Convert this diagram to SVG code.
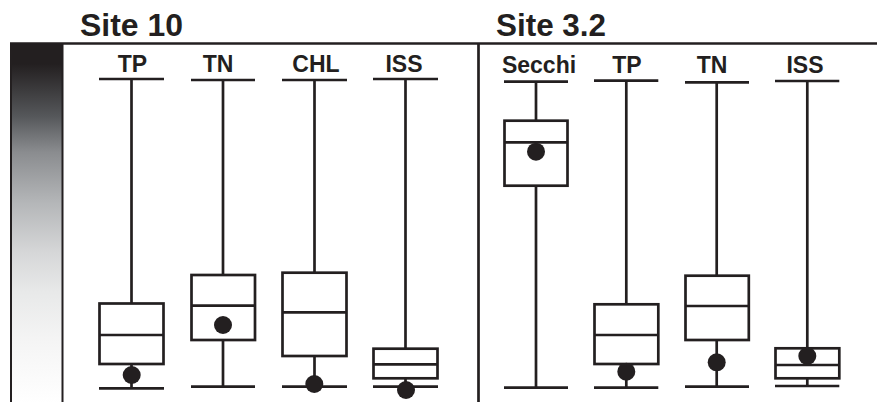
<svg xmlns="http://www.w3.org/2000/svg" width="877" height="402" viewBox="0 0 877 402">
<defs>
<linearGradient id="bar" x1="0" y1="0" x2="0" y2="1">
<stop offset="0" stop-color="#231f20"/>
<stop offset="0.055" stop-color="#231f20"/>
<stop offset="0.2" stop-color="#55575a"/>
<stop offset="0.3" stop-color="#8a8c8f"/>
<stop offset="0.44" stop-color="#b4b6b8"/>
<stop offset="0.58" stop-color="#d6d7d8"/>
<stop offset="0.69" stop-color="#e8e9e9"/>
<stop offset="0.83" stop-color="#f5f5f5"/>
<stop offset="1" stop-color="#ffffff"/>
</linearGradient>
</defs>
<style>
.ln{stroke:#231f20;stroke-width:2.7;fill:none}
.bx{stroke:#231f20;stroke-width:2.7;fill:#ffffff}
.dot{fill:#231f20}
.site{font-family:"Liberation Sans",Arial,sans-serif;font-weight:bold;font-size:31px;fill:#231f20}
.lab{font-family:"Liberation Sans",Arial,sans-serif;font-weight:bold;font-size:23px;fill:#231f20;text-anchor:middle}
</style>
<rect width="877" height="402" fill="#ffffff"/>
<g id="frame">
<rect x="11" y="44" width="51.5" height="360" fill="url(#bar)" stroke="#231f20" stroke-width="2"/>
<line class="ln" x1="10" y1="43.5" x2="877" y2="43.5"/>
<line class="ln" x1="478.5" y1="43.5" x2="478.5" y2="402"/>
</g>
<text class="site" x="80" y="35.5" textLength="103" lengthAdjust="spacingAndGlyphs">Site 10</text>
<text class="site" x="496" y="35.5" textLength="110" lengthAdjust="spacingAndGlyphs">Site 3.2</text>
<g id="s10-TP">
<text class="lab" x="132.5" y="72">TP</text>
<line class="ln" x1="99" y1="79" x2="164" y2="79"/>
<line class="ln" x1="131.5" y1="79" x2="131.5" y2="388"/>
<line class="ln" x1="99" y1="388.3" x2="164" y2="388.3"/>
<rect class="bx" x="99.5" y="303.5" width="64" height="60.5"/>
<line class="ln" x1="99.5" y1="335" x2="163.5" y2="335"/>
<circle class="dot" cx="131.7" cy="375" r="9"/>
</g>
<g id="s10-TN">
<text class="lab" x="218" y="72">TN</text>
<line class="ln" x1="191" y1="80" x2="255" y2="80"/>
<line class="ln" x1="223" y1="80" x2="223" y2="386.7"/>
<line class="ln" x1="191" y1="386.7" x2="255" y2="386.7"/>
<rect class="bx" x="191.5" y="275" width="63.5" height="65"/>
<line class="ln" x1="191.5" y1="305.7" x2="255" y2="305.7"/>
<circle class="dot" cx="223" cy="325" r="9"/>
</g>
<g id="s10-CHL">
<text class="lab" x="316" y="72">CHL</text>
<line class="ln" x1="282" y1="80" x2="347" y2="80"/>
<line class="ln" x1="314.5" y1="80" x2="314.5" y2="386.7"/>
<line class="ln" x1="282" y1="386.7" x2="347" y2="386.7"/>
<rect class="bx" x="282.5" y="272.7" width="64" height="83.3"/>
<line class="ln" x1="282.5" y1="312.3" x2="346.5" y2="312.3"/>
<circle class="dot" cx="314.3" cy="384" r="9"/>
</g>
<g id="s10-ISS">
<text class="lab" x="404" y="72">ISS</text>
<line class="ln" x1="373" y1="79" x2="438" y2="79"/>
<line class="ln" x1="405.5" y1="79" x2="405.5" y2="386.7"/>
<line class="ln" x1="373" y1="386.7" x2="438" y2="386.7"/>
<rect class="bx" x="373.5" y="348.7" width="64" height="29.6"/>
<line class="ln" x1="373.5" y1="364.3" x2="437.5" y2="364.3"/>
<circle class="dot" cx="406" cy="390" r="9"/>
</g>
<g id="s32-Secchi">
<text class="lab" x="539" y="72.7">Secchi</text>
<line class="ln" x1="504" y1="81.7" x2="568" y2="81.7"/>
<line class="ln" x1="536" y1="81.7" x2="536" y2="387.7"/>
<line class="ln" x1="504" y1="387.7" x2="568" y2="387.7"/>
<rect class="bx" x="504.5" y="120.7" width="63" height="65"/>
<line class="ln" x1="504.5" y1="142.3" x2="567.5" y2="142.3"/>
<circle class="dot" cx="536" cy="151.7" r="9"/>
</g>
<g id="s32-TP">
<text class="lab" x="627" y="72.7">TP</text>
<line class="ln" x1="594" y1="80.7" x2="658.3" y2="80.7"/>
<line class="ln" x1="626.3" y1="80.7" x2="626.3" y2="387.7"/>
<line class="ln" x1="594" y1="387.7" x2="658.3" y2="387.7"/>
<rect class="bx" x="594.5" y="304.3" width="63.8" height="59.7"/>
<line class="ln" x1="594.5" y1="335" x2="658.3" y2="335"/>
<circle class="dot" cx="626.3" cy="371.7" r="9"/>
</g>
<g id="s32-TN">
<text class="lab" x="712" y="72.7">TN</text>
<line class="ln" x1="685" y1="82.3" x2="749" y2="82.3"/>
<line class="ln" x1="716.7" y1="82.3" x2="716.7" y2="386.7"/>
<line class="ln" x1="685" y1="386.7" x2="749" y2="386.7"/>
<rect class="bx" x="685.5" y="275.7" width="63.3" height="64.3"/>
<line class="ln" x1="685.5" y1="306" x2="748.8" y2="306"/>
<circle class="dot" cx="716.7" cy="362.3" r="9"/>
</g>
<g id="s32-ISS">
<text class="lab" x="805" y="72.7">ISS</text>
<line class="ln" x1="775" y1="81" x2="839.3" y2="81"/>
<line class="ln" x1="807.3" y1="81" x2="807.3" y2="386"/>
<line class="ln" x1="775" y1="386" x2="839.3" y2="386"/>
<rect class="bx" x="775.5" y="348.3" width="63.8" height="30"/>
<line class="ln" x1="775.5" y1="365" x2="839.3" y2="365"/>
<circle class="dot" cx="807.3" cy="356" r="9"/>
</g>
</svg>
